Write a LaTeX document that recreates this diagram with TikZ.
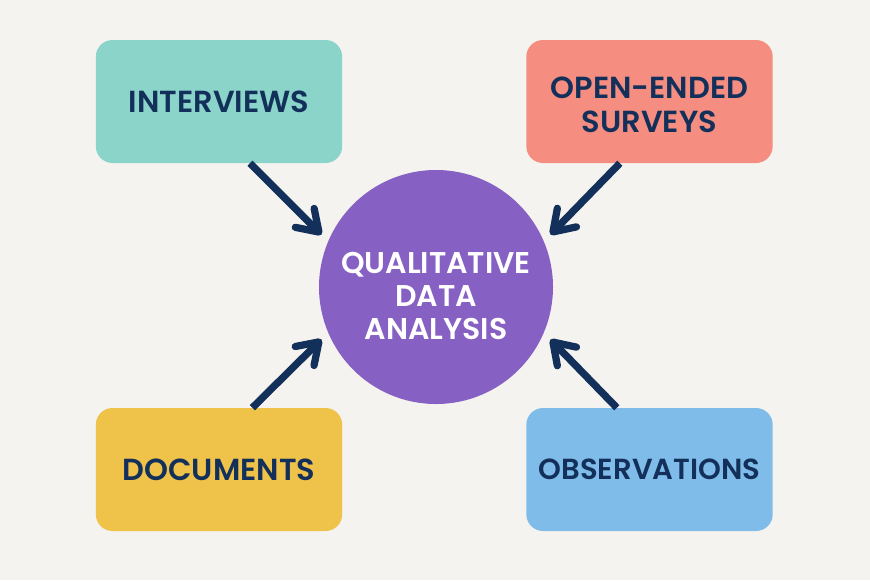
\documentclass[tikz,border=0pt]{standalone}
\usepackage{fontspec}
\setmainfont{Poppins}[BoldFont={Poppins SemiBold}]
\usetikzlibrary{arrows.meta}
\definecolor{paper}{HTML}{F5F3EF}
\definecolor{navy}{HTML}{12305A}
\definecolor{tealbox}{HTML}{8AD4CA}
\definecolor{salmonbox}{HTML}{F58D80}
\definecolor{yellowbox}{HTML}{EFC24A}
\definecolor{bluebox}{HTML}{7FBCE9}
\definecolor{purplecirc}{HTML}{8760C4}
\tikzset{
  source/.style={rounded corners=0.5cm, minimum width=7.39cm, minimum height=3.69cm,
    align=center, text=navy, font=\fontsize{26}{29}\selectfont\bfseries},
  flow/.style={navy, line width=6.2pt, shorten >=0.28cm,
    -{Straight Barb[round, length=0.6cm, width=0.8cm]}},
}
\begin{document}
\begin{tikzpicture}[x=0.03cm, y=-0.03cm]
    \fill[paper] (0, 0) rectangle (870, 580);
    \useasboundingbox (0, 0) rectangle (870, 580);

    \node[source, fill=tealbox] (interviews) at (219, 101.5) {INTERVIEWS};
    \node[source, fill=salmonbox] (surveys) at (649.5, 101.5) {\rule{0pt}{24pt}OPEN-ENDED\\SURVEYS};
    \node[source, fill=yellowbox] (documents) at (219, 469.5) {DOCUMENTS};
    \node[source, fill=bluebox, font=\fontsize{24.8}{29}\selectfont\bfseries] (observations) at (649.5, 469.5) {OBSERVATIONS};

    \node[circle, fill=purplecirc, minimum size=7.02cm, inner sep=0pt, align=center,
      text=white, font=\fontsize{25.6}{28}\selectfont\bfseries] (analysis) at (436, 287)
      {\rule{0pt}{33.5pt}QUALITATIVE\\DATA\\ANALYSIS};

    \draw[flow] ([xshift=0.93cm]interviews.south) -- (analysis.157);
    \draw[flow] ([xshift=-0.89cm]surveys.south) -- (analysis.23);
    \draw[flow] ([xshift=1.0cm]documents.north) -- (analysis.203);
    \draw[flow] ([xshift=-0.98cm]observations.north) -- (analysis.-23);
\end{tikzpicture}
\end{document}
